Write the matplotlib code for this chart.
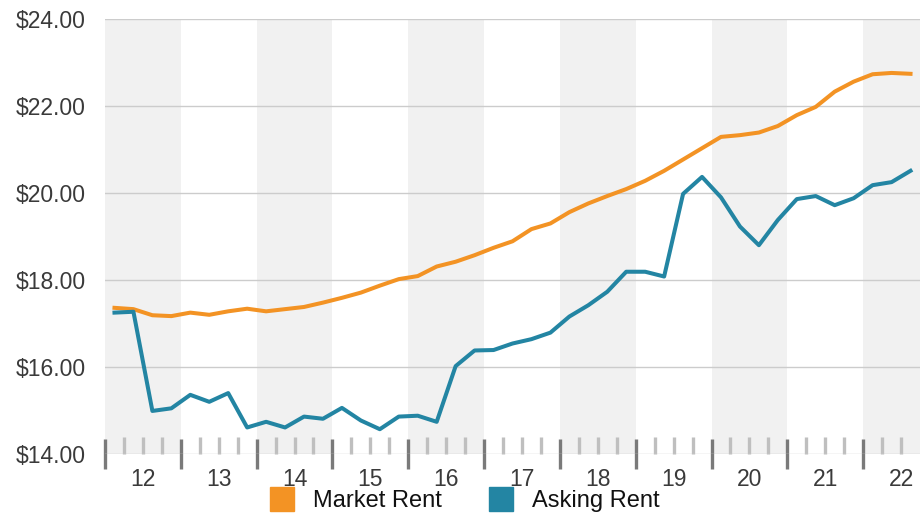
import matplotlib
matplotlib.use('Agg')
import matplotlib.pyplot as plt
import numpy as np
from matplotlib.lines import Line2D

plt.rcParams['font.family'] = ['Liberation Sans', 'DejaVu Sans']

# quarterly rent, 2012 Q1 .. 2022 Q3
years = ['12', '13', '14', '15', '16', '17', '18', '19', '20', '21', '22']
market_rent = [17.36, 17.33, 17.19, 17.17, 17.25, 17.20, 17.28, 17.34, 17.28, 17.33, 17.38,
               17.48, 17.59, 17.71, 17.87, 18.02, 18.09, 18.31, 18.42, 18.57, 18.74, 18.89,
               19.17, 19.30, 19.56, 19.76, 19.93, 20.09, 20.28, 20.51, 20.77, 21.03, 21.29,
               21.33, 21.39, 21.54, 21.79, 21.98, 22.33, 22.56, 22.73, 22.76, 22.74]
asking_rent = [17.25, 17.27, 14.99, 15.05, 15.36, 15.20, 15.40, 14.61, 14.74, 14.61, 14.86,
               14.81, 15.06, 14.77, 14.57, 14.86, 14.88, 14.74, 16.02, 16.38, 16.39, 16.54,
               16.64, 16.79, 17.16, 17.42, 17.73, 18.19, 18.19, 18.08, 19.98, 20.37, 19.90,
               19.23, 18.80, 19.38, 19.86, 19.93, 19.72, 19.88, 20.18, 20.25, 20.51]

orange = '#f39324'
blue = '#2385a3'

x = np.arange(len(market_rent))
n = len(x)

fig = plt.figure(figsize=(9.21, 5.15), dpi=100)
ax = fig.add_axes([105/921, 61/515, 815/921, 435/515])

# alternating year bands
for k in range(len(years)):
    if k % 2 == 0:
        ax.axvspan(4*k - 0.5, min(4*k + 3.5, n - 0.5), color='#f1f1f1', lw=0, zorder=0)

ax.set_ylim(14, 24)
ax.set_xlim(-0.5, n - 0.5)
ax.set_yticks(np.arange(14, 25, 2))
ax.set_yticklabels(['$%.2f' % v for v in np.arange(14, 25, 2)])
ax.yaxis.grid(True, color='#cccccc', lw=1)
ax.set_axisbelow(True)
ax.tick_params(axis='y', length=0, pad=14, labelsize=16.5, labelcolor='#3a3a3a')
for s in ax.spines.values():
    s.set_visible(False)

ax.plot(x, market_rent, color=orange, lw=2.9, zorder=3)
ax.plot(x, asking_rent, color=blue, lw=2.9, zorder=3)

# tick marks: year boundaries (major) and quarter boundaries (minor)
bounds = np.arange(-0.5, n - 0.5, 1)
major = [b for b in bounds if (b + 0.5) % 4 == 0]
minor = [b for b in bounds if (b + 0.5) % 4 != 0]
ax.set_xticks(major)
ax.set_xticks(minor, minor=True)
ax.set_xticklabels([])
ax.tick_params(axis='x', which='major', direction='inout', length=21, width=2.4, color='#7a7a7a')
ax.tick_params(axis='x', which='minor', direction='in', length=12, width=2.4, color='#bfbfbf')

# year labels at band centres
sec = ax.secondary_xaxis('bottom')
sec.set_xticks([4*k + 1.5 for k in range(len(years))])
sec.set_xticklabels(years)
sec.tick_params(length=0, pad=10, labelsize=16.5, labelcolor='#3a3a3a')
sec.spines['bottom'].set_visible(False)

handles = [Line2D([], [], ls='none', marker='s', markersize=17, color=orange),
           Line2D([], [], ls='none', marker='s', markersize=17, color=blue)]
fig.legend(handles, ['Market Rent', 'Asking Rent'], loc='center',
           bbox_to_anchor=(465/921, 1 - 501/515), ncol=2, frameon=False,
           fontsize=17, labelcolor='#111111', handlelength=1.0, handletextpad=0.8,
           columnspacing=2.0, borderpad=0)

fig.savefig('out.png', dpi=100)
